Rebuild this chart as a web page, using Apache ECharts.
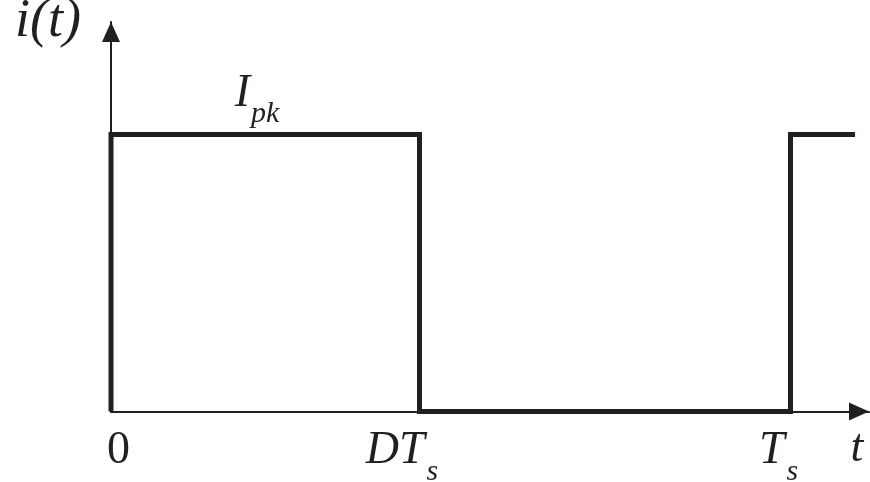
<!DOCTYPE html>
<html>
<head>
<meta charset="utf-8">
<script src="https://cdn.jsdelivr.net/npm/echarts@6/dist/echarts.min.js"></script>
<style>
  html,body{margin:0;padding:0;background:#fff;}
  #chart{width:870px;height:482px;}
</style>
</head>
<body>
<div id="chart"></div>
<script>
// square-wave current, one period normalised to Ts = 1
const tVals = [0, 0, 0.454, 0.454, 1, 1, 1.095];
const iVals = [0, 1, 1, 0, 0, 1, 1];
const tickVals = [0, 0.454, 1];
const tickLabels = ['{n|0}', '{m|DT}{sa|s}', '{m|T}{sb|s}'];
const peakLabel = '{m|I}{s|pk}';
const peakAt = [0.215, 1];

const ink = '#231f20';
const serif = '"Liberation Serif", "DejaVu Serif", serif';

function txt(size, italic, extra) {
  return Object.assign({
    fontFamily: serif, fontStyle: italic ? 'italic' : 'normal',
    fontSize: size, color: ink, lineHeight: size, verticalAlign: 'top'
  }, extra || {});
}

// arrow head: tip sits on the axis end
const arrowLine = {
  show: true,
  symbol: ['none', 'triangle'],
  symbolSize: [18, 20],
  symbolOffset: [0, -10],
  lineStyle: {color: ink, width: 2}
};

const chart = echarts.init(document.getElementById('chart'));
chart.setOption({
  animation: false,
  grid: {left: 111, right: 1, top: 22, bottom: 70.5, outerBoundsMode: 'none'},
  xAxis: {
    type: 'value',
    min: 0,
    max: 1.1155,
    splitLine: {show: false},
    axisTick: {show: false},
    axisLine: arrowLine,
    axisLabel: {
      customValues: tickVals,
      margin: 16,
      showMinLabel: true,
      showMaxLabel: true,
      formatter: function (v) {
        let k = 0;
        tickVals.forEach((t, j) => { if (Math.abs(t - v) < Math.abs(tickVals[k] - v)) k = j; });
        return tickLabels[k];
      },
      rich: {
        n: txt(46, false, {padding: [0, 0, 0, 15]}),
        m: txt(46, true),
        sa: txt(30, true, {padding: [30, 35, 0, 2]}),
        sb: txt(30, true, {padding: [30, 24, 0, 2]})
      }
    },
    name: 't',
    nameLocation: 'end',
    nameGap: 0,
    nameTextStyle: {
      fontFamily: serif, fontStyle: 'italic', fontSize: 46, color: ink,
      align: 'center', verticalAlign: 'top', padding: [14, 24, 0, 0]
    }
  },
  yAxis: {
    type: 'value',
    min: 0,
    max: 1.406,
    splitLine: {show: false},
    axisTick: {show: false},
    axisLabel: {show: false},
    axisLine: arrowLine,
    name: 'i(t)',
    nameLocation: 'end',
    nameGap: 0,
    nameTextStyle: {
      fontFamily: serif, fontStyle: 'italic', fontSize: 54, color: ink,
      align: 'right', verticalAlign: 'middle', padding: [10, 30, 0, 0]
    }
  },
  series: [{
    type: 'line',
    data: tVals.map((t, k) => [t, iVals[k]]),
    symbol: 'none',
    z: 5,
    lineStyle: {color: ink, width: 5, join: 'miter', cap: 'butt'},
    markPoint: {
      symbol: 'circle',
      symbolSize: 0,
      silent: true,
      label: {
        show: true, position: 'top', distance: 18, formatter: peakLabel,
        rich: {
          m: txt(46, true),
          s: txt(30, true, {padding: [29, 0, 0, 1]})
        }
      },
      data: [{coord: peakAt}]
    }
  }]
});
</script>
</body>
</html>
